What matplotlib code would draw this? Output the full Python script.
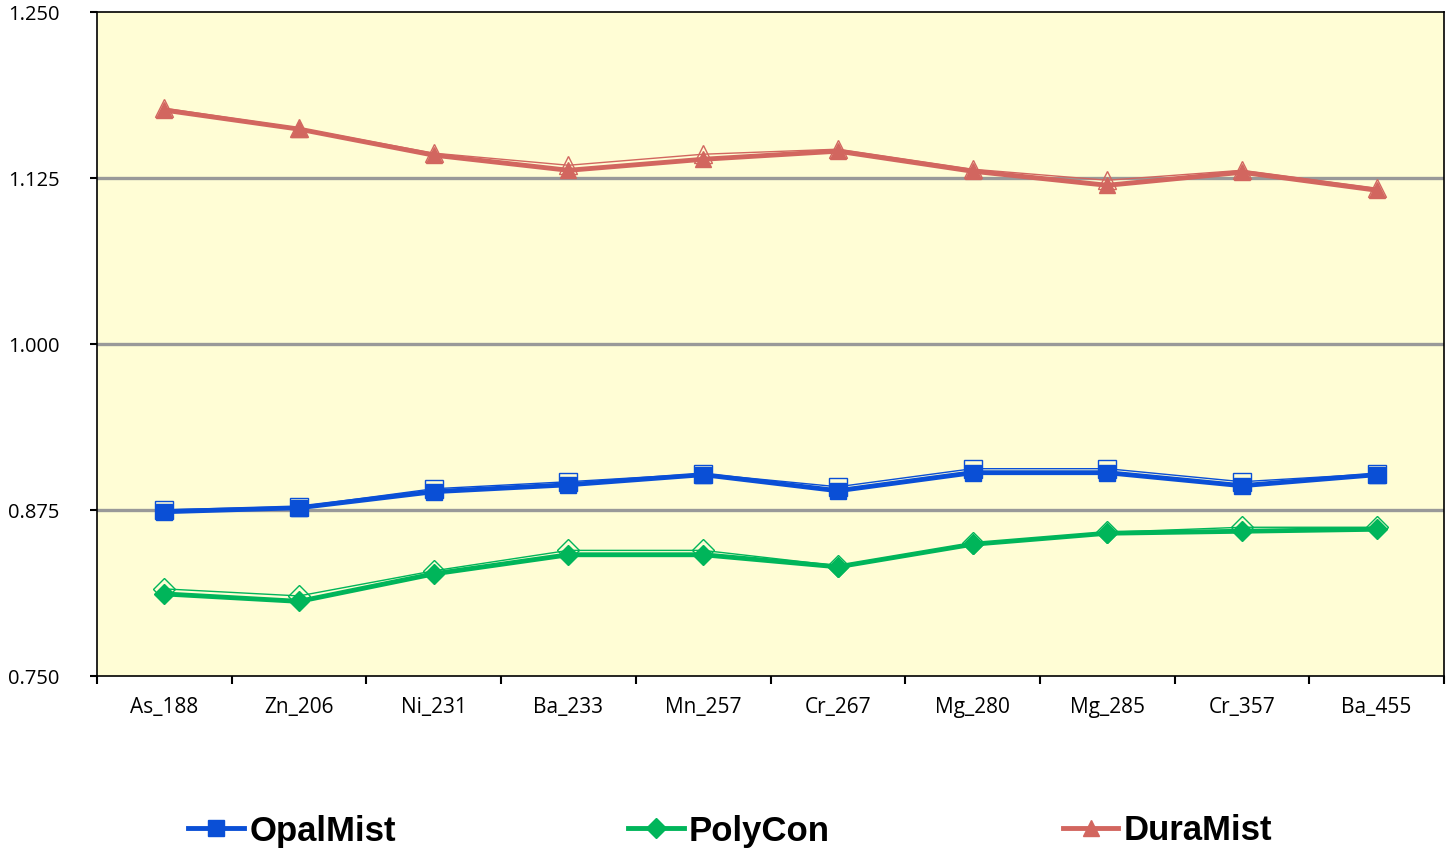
import matplotlib
matplotlib.use("Agg")
import matplotlib.pyplot as plt
from matplotlib.ticker import FixedLocator

# categories and readings (thick line = filled markers, thin line = hollow markers)
categories = ['As_188', 'Zn_206', 'Ni_231', 'Ba_233', 'Mn_257',
              'Cr_267', 'Mg_280', 'Mg_285', 'Cr_357', 'Ba_455']

opalmist = [0.8737, 0.8767, 0.8888, 0.8940, 0.9016, 0.8895, 0.9031, 0.9031, 0.8933, 0.9016]
opalmist_b = [0.8752, 0.8775, 0.8910, 0.8963, 0.9023, 0.8925, 0.9061, 0.9061, 0.8963, 0.9023]

polycon = [0.8118, 0.8062, 0.8269, 0.8413, 0.8413, 0.8322, 0.8492, 0.8575, 0.8590, 0.8605]
polycon_b = [0.8156, 0.8103, 0.8292, 0.8446, 0.8446, 0.8330, 0.8499, 0.8582, 0.8620, 0.8620]

duramist = [1.1761, 1.1618, 1.1422, 1.1308, 1.1391, 1.1452, 1.1301, 1.1195, 1.1293, 1.1158]
duramist_b = [1.1776, 1.1625, 1.1437, 1.1346, 1.1429, 1.1467, 1.1316, 1.1233, 1.1308, 1.1173]

yticks = [0.750, 0.875, 1.000, 1.125, 1.250]
gridlines = [0.875, 1.000, 1.125]

blue = '#0A4FD6'
green = '#00B55A'
red = '#D2665F'

fig = plt.figure(figsize=(14.46, 8.51), dpi=100)
ax = fig.add_axes([97/1446, 1 - 676/851, (1444 - 97)/1446, (676 - 12)/851])
ax.set_facecolor('#FFFDD5')

x = list(range(len(categories)))

for g in gridlines:
    ax.axhline(g, color='#999999', lw=2.4, zorder=1)

series = [
    ('OpalMist', opalmist, opalmist_b, blue, 's', 13),
    ('PolyCon', polycon, polycon_b, green, 'D', 11),
    ('DuraMist', duramist, duramist_b, red, '^', 13),
]
handles = []
for name, thick, thin, col, mk, ms in series:
    ax.plot(x, thin, color=col, lw=1.0, marker=mk, ms=ms, mfc='none',
            mec=col, mew=1.0, zorder=3)
    h, = ax.plot(x, thick, color=col, lw=3.5, marker=mk, ms=ms - 1, mfc=col,
                 mec=col, zorder=4, label=name)
    handles.append(h)

ax.set_xlim(-0.5, len(categories) - 0.5)
ax.set_ylim(0.75, 1.25)
ax.set_yticks(yticks)
ax.set_yticklabels(['%.3f' % v for v in yticks], fontsize=14.5, family='Open Sans')
ax.tick_params(axis='y', length=5, width=1.5, pad=22, color='black')

ax.set_xticks(x)
ax.set_xticklabels(categories, fontsize=15, family='Open Sans')
ax.xaxis.set_minor_locator(FixedLocator([i + 0.5 for i in range(-1, len(categories))]))
ax.tick_params(axis='x', which='major', length=0, pad=15)
ax.tick_params(axis='x', which='minor', length=6, width=1.5, color='black')

for s in ax.spines.values():
    s.set_color('black')
    s.set_linewidth(1.2)

fig.legend(handles=handles, loc='center', bbox_to_anchor=(0.505, 1 - 831/851),
           ncol=3, frameon=False, handlelength=1.6, handletextpad=0.15,
           columnspacing=6.7,
           prop={'family': 'Liberation Sans', 'weight': 'bold', 'size': 25})

fig.savefig('out.png', dpi=100)
